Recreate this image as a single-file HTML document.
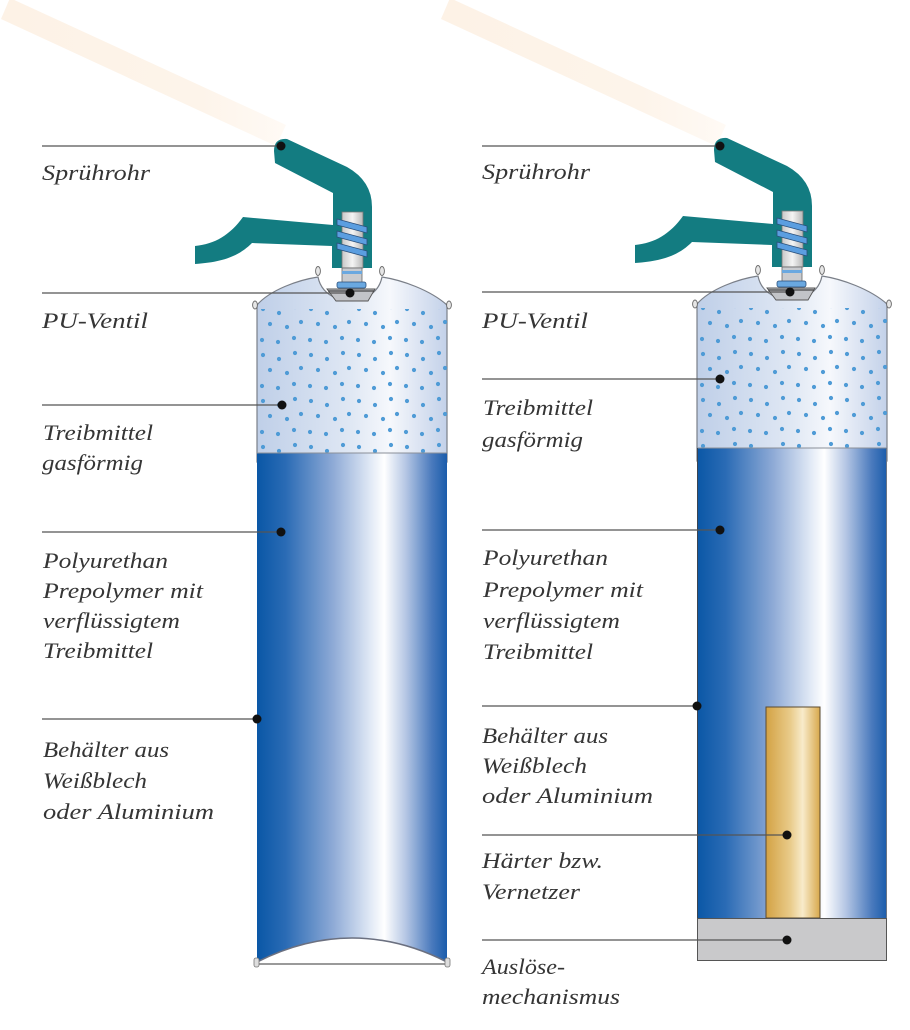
<!DOCTYPE html>
<html>
<head>
<meta charset="utf-8">
<style>
html,body{margin:0;padding:0;background:#fff;}
svg{display:block;}
text{font-family:"Liberation Serif",serif;font-style:italic;font-size:22px;fill:#353535;}
</style>
</head>
<body>
<svg width="910" height="1030" viewBox="0 0 910 1030" xmlns="http://www.w3.org/2000/svg">
<defs>
  <linearGradient id="liq" x1="0" y1="0" x2="1" y2="0">
    <stop offset="0" stop-color="#0a57a6"/>
    <stop offset="0.15" stop-color="#2a6bb5"/>
    <stop offset="0.4" stop-color="#8eaad6"/>
    <stop offset="0.6" stop-color="#e2eaf6"/>
    <stop offset="0.67" stop-color="#ffffff"/>
    <stop offset="0.78" stop-color="#b7c8e5"/>
    <stop offset="0.92" stop-color="#4a7abd"/>
    <stop offset="1" stop-color="#1a5cab"/>
  </linearGradient>
  <linearGradient id="gas" x1="0" y1="0" x2="1" y2="0">
    <stop offset="0" stop-color="#bfcfe8"/>
    <stop offset="0.5" stop-color="#e0e8f4"/>
    <stop offset="0.7" stop-color="#f6f8fc"/>
    <stop offset="1" stop-color="#c3d1e9"/>
  </linearGradient>
  <linearGradient id="rod" x1="0" y1="0" x2="1" y2="0">
    <stop offset="0" stop-color="#d3a244"/>
    <stop offset="0.45" stop-color="#e9cb8a"/>
    <stop offset="0.68" stop-color="#f8ebca"/>
    <stop offset="1" stop-color="#d7a84c"/>
  </linearGradient>
  <linearGradient id="stem" x1="0" y1="0" x2="1" y2="0">
    <stop offset="0" stop-color="#c8c8c8"/>
    <stop offset="0.5" stop-color="#f4f4f4"/>
    <stop offset="1" stop-color="#b8b8b8"/>
  </linearGradient>
  <linearGradient id="beam" x1="0" y1="0" x2="1" y2="0">
    <stop offset="0" stop-color="#fdf2e6"/>
    <stop offset="0.7" stop-color="#fdf4ea"/>
    <stop offset="1" stop-color="#fffaf5"/>
  </linearGradient>
  <pattern id="dots" patternUnits="userSpaceOnUse" x="257" y="303" width="48" height="46">
    <circle cx="6" cy="6" r="2.1" fill="#4f9bd6"/>
    <circle cx="22" cy="10" r="2.1" fill="#4f9bd6"/>
    <circle cx="38" cy="4" r="2.1" fill="#4f9bd6"/>
    <circle cx="13" cy="21" r="2.1" fill="#4f9bd6"/>
    <circle cx="30" cy="24" r="2.1" fill="#4f9bd6"/>
    <circle cx="44" cy="19" r="2.1" fill="#4f9bd6"/>
    <circle cx="5" cy="37" r="2.1" fill="#4f9bd6"/>
    <circle cx="21" cy="39" r="2.1" fill="#4f9bd6"/>
    <circle cx="37" cy="35" r="2.1" fill="#4f9bd6"/>
  </pattern>

  <g id="top">
    <path d="M257,462 L257,305 C270,290 298,280 318,277 C320,287 326,294 336,298 L364,298 C374,294 380,287 382,277 C402,280 430,290 447,305 L447,462 Z" fill="url(#gas)" stroke="#7a7f88" stroke-width="1.2"/>
    <path d="M257,462 L257,309 L447,309 L447,462 Z" fill="url(#dots)"/>
    <path d="M274,151 Q274,138 287,139 L347,167 Q372,181 372,207 L372,268 L332,268 L332,246 L252,243 C240,255 225,262 195,264 L195,246 C215,244 230,235 243,217 L333,225 L333,193 L275,163 Z" fill="#137c81"/>
    <rect x="342" y="212" width="21" height="56" fill="url(#stem)" stroke="#777" stroke-width="0.8"/>
    <polygon points="337,219 367,227 367,233 337,225" fill="#5b9ee0" stroke="#2a4f7a" stroke-width="0.8"/>
    <polygon points="337,231 367,239 367,245 337,237" fill="#5b9ee0" stroke="#2a4f7a" stroke-width="0.8"/>
    <polygon points="337,243 367,251 367,257 337,249" fill="#5b9ee0" stroke="#2a4f7a" stroke-width="0.8"/>
    <rect x="342" y="268" width="20" height="15" fill="#c9cbcf" stroke="#666" stroke-width="0.8"/>
    <rect x="342" y="271" width="20" height="3" fill="#6aa8e0"/>
    <rect x="337" y="282" width="29" height="6" rx="2" fill="#6aa8e0" stroke="#2a4f7a" stroke-width="0.8"/>
    <path d="M327,289 L375,289 L368,301 L336,301 Z" fill="#c2c4c8" stroke="#555" stroke-width="0.9"/>
    <line x1="328" y1="291" x2="374" y2="291" stroke="#444" stroke-width="1.2"/>
    <ellipse cx="318" cy="271" rx="2.4" ry="4.5" fill="#e6e6e6" stroke="#666" stroke-width="0.9"/>
    <ellipse cx="382" cy="271" rx="2.4" ry="4.5" fill="#e6e6e6" stroke="#666" stroke-width="0.9"/>
    <ellipse cx="255" cy="305" rx="2.4" ry="4" fill="#e6e6e6" stroke="#666" stroke-width="0.9"/>
    <ellipse cx="449" cy="305" rx="2.4" ry="4" fill="#e6e6e6" stroke="#666" stroke-width="0.9"/>
  </g>
</defs>

<!-- spray beams -->
<polygon points="10,-2 286,125 276,146 1,19" fill="url(#beam)"/>
<polygon points="450,-2 726,125 716,146 441,19" fill="url(#beam)"/>

<!-- LEFT CAN -->
<use href="#top"/>
<path d="M257,453 L447,453 L447,962 Q352,914 257,962 Z" fill="url(#liq)"/>
<line x1="257" y1="453" x2="447" y2="453" stroke="#8a8f98" stroke-width="1"/>
<path d="M257,962 Q352,914 447,962" fill="none" stroke="#6b7080" stroke-width="1.6"/>
<line x1="257" y1="964" x2="447" y2="964" stroke="#9a9a9a" stroke-width="2"/>
<rect x="254" y="958" width="5" height="9" rx="2" fill="#ddd" stroke="#777" stroke-width="0.8"/>
<rect x="445" y="958" width="5" height="9" rx="2" fill="#ddd" stroke="#777" stroke-width="0.8"/>

<!-- RIGHT CAN -->
<use href="#top" transform="translate(440,-1)"/>
<rect x="697" y="448" width="190" height="470" fill="url(#liq)"/>
<line x1="697" y1="448" x2="887" y2="448" stroke="#8a8f98" stroke-width="1"/>
<line x1="697.5" y1="448" x2="697.5" y2="960" stroke="#3b4450" stroke-width="1"/>
<line x1="886.5" y1="448" x2="886.5" y2="960" stroke="#6b7585" stroke-width="1"/>
<rect x="766" y="707" width="54" height="211" fill="url(#rod)" stroke="#5a4a30" stroke-width="1"/>
<rect x="697.5" y="918.5" width="189" height="42" fill="#c9c9cb" stroke="#555" stroke-width="1"/>

<!-- LABEL LINES -->
<g stroke="#555" stroke-width="1.3">
  <line x1="42" y1="146" x2="281" y2="146"/>
  <line x1="42" y1="293" x2="350" y2="293"/>
  <line x1="42" y1="405" x2="282" y2="405"/>
  <line x1="42" y1="532" x2="281" y2="532"/>
  <line x1="42" y1="719" x2="257" y2="719"/>
  <line x1="482" y1="146" x2="720" y2="146"/>
  <line x1="482" y1="292" x2="790" y2="292"/>
  <line x1="482" y1="379" x2="720" y2="379"/>
  <line x1="482" y1="530" x2="720" y2="530"/>
  <line x1="482" y1="706" x2="697" y2="706"/>
  <line x1="482" y1="835" x2="787" y2="835"/>
  <line x1="482" y1="940" x2="787" y2="940"/>
</g>
<g fill="#111">
  <circle cx="281" cy="146" r="4.5"/>
  <circle cx="350" cy="293" r="4.5"/>
  <circle cx="282" cy="405" r="4.5"/>
  <circle cx="281" cy="532" r="4.5"/>
  <circle cx="257" cy="719" r="4.5"/>
  <circle cx="720" cy="146" r="4.5"/>
  <circle cx="790" cy="292" r="4.5"/>
  <circle cx="720" cy="379" r="4.5"/>
  <circle cx="720" cy="530" r="4.5"/>
  <circle cx="697" cy="706" r="4.5"/>
  <circle cx="787" cy="835" r="4.5"/>
  <circle cx="787" cy="940" r="4.5"/>
</g>

<!-- TEXT LEFT -->
<text x="42" y="180" textLength="108" lengthAdjust="spacingAndGlyphs">Sprührohr</text>
<text x="42" y="328" textLength="106" lengthAdjust="spacingAndGlyphs">PU-Ventil</text>
<text x="43" y="440" textLength="110" lengthAdjust="spacingAndGlyphs">Treibmittel</text>
<text x="42" y="470" textLength="101" lengthAdjust="spacingAndGlyphs">gasförmig</text>
<text x="43" y="568" textLength="125" lengthAdjust="spacingAndGlyphs">Polyurethan</text>
<text x="43" y="598" textLength="160" lengthAdjust="spacingAndGlyphs">Prepolymer mit</text>
<text x="43" y="628" textLength="137" lengthAdjust="spacingAndGlyphs">verflüssigtem</text>
<text x="43" y="658" textLength="110" lengthAdjust="spacingAndGlyphs">Treibmittel</text>
<text x="43" y="757" textLength="126" lengthAdjust="spacingAndGlyphs">Behälter aus</text>
<text x="43" y="788" textLength="104" lengthAdjust="spacingAndGlyphs">Weißblech</text>
<text x="43" y="819" textLength="171" lengthAdjust="spacingAndGlyphs">oder Aluminium</text>

<!-- TEXT RIGHT -->
<text x="482" y="179" textLength="108" lengthAdjust="spacingAndGlyphs">Sprührohr</text>
<text x="482" y="328" textLength="106" lengthAdjust="spacingAndGlyphs">PU-Ventil</text>
<text x="483" y="415" textLength="110" lengthAdjust="spacingAndGlyphs">Treibmittel</text>
<text x="482" y="447" textLength="101" lengthAdjust="spacingAndGlyphs">gasförmig</text>
<text x="483" y="565" textLength="125" lengthAdjust="spacingAndGlyphs">Polyurethan</text>
<text x="483" y="597" textLength="160" lengthAdjust="spacingAndGlyphs">Prepolymer mit</text>
<text x="483" y="628" textLength="137" lengthAdjust="spacingAndGlyphs">verflüssigtem</text>
<text x="483" y="659" textLength="110" lengthAdjust="spacingAndGlyphs">Treibmittel</text>
<text x="482" y="743" textLength="126" lengthAdjust="spacingAndGlyphs">Behälter aus</text>
<text x="482" y="773" textLength="105" lengthAdjust="spacingAndGlyphs">Weißblech</text>
<text x="482" y="803" textLength="171" lengthAdjust="spacingAndGlyphs">oder Aluminium</text>
<text x="482" y="868" textLength="121" lengthAdjust="spacingAndGlyphs">Härter bzw.</text>
<text x="482" y="899" textLength="98" lengthAdjust="spacingAndGlyphs">Vernetzer</text>
<text x="482" y="974" textLength="83" lengthAdjust="spacingAndGlyphs">Auslöse-</text>
<text x="482" y="1004" textLength="138" lengthAdjust="spacingAndGlyphs">mechanismus</text>
</svg>
</body>
</html>
